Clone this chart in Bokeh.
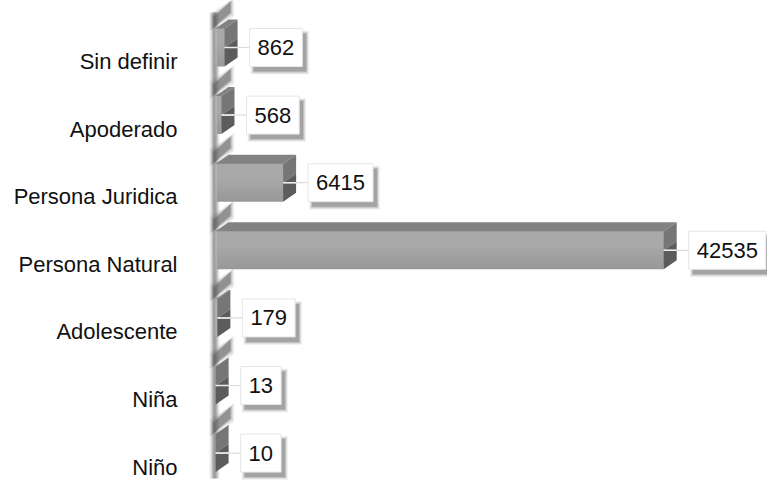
from bokeh.plotting import figure
from bokeh.models import Range1d
from bokeh.embed import file_html
from bokeh.resources import INLINE
from bokeh.core.properties import value as val

# Data (top row first)
categories = ["Sin definir", "Apoderado", "Persona Juridica", "Persona Natural",
              "Adolescente", "Niña", "Niño"]
counts = [862, 568, 6415, 42535, 179, 13, 10]

# Layout constants (pixels)
W, H = 767, 482
AXIS_PX = 215        # horizontal position of the zero line
UX = 94.9            # count units per pixel
ROW_PX = 67.6        # distance between row centres
BOTTOM_ROW_PX = 452.6
HALF_BAR_PX = 19     # half height of a bar's front face
DEPTH_X, DEPTH_Y = 13, 9
FONT = "Liberation Sans"
FONT_PX = 22
DIGIT_EM = 0.556


def dx(px):
    return px * UX


def dy(px):
    return px / ROW_PX


def grey(level):
    h = "%02x" % int(round(level))
    return "#" + h * 3


p = figure(width=W, height=H, output_backend="svg", toolbar_location=None,
           x_range=Range1d(-AXIS_PX * UX, (W - AXIS_PX) * UX),
           y_range=Range1d(-(H - BOTTOM_ROW_PX) / ROW_PX, BOTTOM_ROW_PX / ROW_PX),
           min_border=0)
p.axis.visible = False
p.grid.visible = False
p.outline_line_color = None
p.background_fill_color = "white"
p.border_fill_color = "white"

n = len(categories)
rows = [n - 1 - i for i in range(n)]

# --- left wall: soft vertical strip ---
wall_top, wall_bot = BOTTOM_ROW_PX / ROW_PX - dy(12), -dy(478 - BOTTOM_ROW_PX)
strip_cols = [(209, 0.08), (210, 0.15), (211, 0.3), (212, 0.5), (213, 0.65), (214, 0.65),
              (215, 0.55), (216, 0.4), (217, 0.22), (218, 0.1)]
for xp, a in strip_cols:
    p.quad(left=dx(xp - AXIS_PX), right=dx(xp + 1 - AXIS_PX), bottom=wall_bot, top=wall_top,
           fill_color="#4a4a4a", fill_alpha=a, line_color=None)

# diagonal wall bands above each bar
for r in rows:
    top = r + dy(HALF_BAR_PX)
    for grow, a in [(8, 0.08), (5, 0.15), (2, 0.3), (0, 0.35)]:
        xs = [dx(-2 - grow / 2), dx(-2 - grow / 2), dx(15 + grow / 2), dx(15 + grow / 2)]
        ys = [top + dy(1 - grow / 2), top + dy(11 + grow / 2), top + dy(27 + grow / 2), top + dy(16 - grow / 2)]
        p.patch(xs, ys, fill_color="#555555", fill_alpha=a, line_color=None)

# --- 3D bars ---
# front face: smooth vertical shading, nested quads from the bottom upward
N_SHADE = 16
for r, v in zip(rows, counts):
    bot, top = r - dy(HALF_BAR_PX), r + dy(HALF_BAR_PX)
    for k in range(N_SHADE):
        t = k / (N_SHADE - 1)            # 0 at bottom, 1 at top
        level = 0x98 + (0xa9 - 0x98) * min(1.0, t * 1.6)
        b0 = bot + (top - bot) * k / N_SHADE
        p.quad(left=0, right=v, bottom=b0, top=top, fill_color=grey(level), line_color=None)
    p.quad(left=0, right=min(v, dx(1.2)), bottom=bot, top=top, fill_color="#b8b8b8", line_color=None)
    # top face
    p.patch([0, v, v + dx(DEPTH_X), dx(DEPTH_X)],
            [top, top, top + dy(DEPTH_Y), top + dy(DEPTH_Y)],
            fill_color="#828282", line_color=None)
    # side face, upper and lower halves
    p.patch([v, v, v + dx(DEPTH_X), v + dx(DEPTH_X)],
            [r, top, top + dy(DEPTH_Y), r + dy(DEPTH_Y)],
            fill_color="#767676", line_color=None)
    p.patch([v, v, v + dx(DEPTH_X), v + dx(DEPTH_X)],
            [bot, r, r + dy(DEPTH_Y), bot + dy(DEPTH_Y)],
            fill_color="#5c5c5c", line_color=None)

# --- value labels with connector and drop shadow ---
for r, v in zip(rows, counts):
    s = str(v)
    text_w = FONT_PX * DIGIT_EM * len(s)
    left = v + dx(DEPTH_X + 12)
    right = left + dx(text_w + 16)
    bot, top = r - dy(HALF_BAR_PX), r + dy(HALF_BAR_PX)
    p.segment(x0=[v], y0=[r], x1=[left], y1=[r], line_color="#dcdcdc", line_width=1.2)
    p.segment(x0=[v], y0=[r], x1=[v + dx(DEPTH_X)], y1=[r], line_color="#eeeeee", line_width=1.5)
    for grow, a in [(6, 0.05), (4, 0.08), (2, 0.12), (0, 0.16)]:
        p.quad(left=left + dx(4 - grow / 2), right=right + dx(4 + grow / 2),
               bottom=bot - dy(5 + grow / 2), top=top - dy(5 - grow / 2),
               fill_color="black", fill_alpha=a, line_color=None)
    p.quad(left=left, right=right, bottom=bot, top=top, fill_color="white",
           line_color="#e6e6e6", line_width=1)
    p.text(x=[left + dx(8)], y=[r], text=[s], text_font=val(FONT),
           text_font_size=f"{FONT_PX}px", text_color="#111111",
           text_align="left", text_baseline="middle")

# --- category labels ---
p.text(x=[dx(177 - AXIS_PX)] * n, y=[r - dy(14) for r in rows], text=categories,
       text_font=val(FONT), text_font_size=f"{FONT_PX}px", text_color="#111111",
       text_align="right", text_baseline="middle")

open("out.html", "w").write(file_html(p, INLINE))
